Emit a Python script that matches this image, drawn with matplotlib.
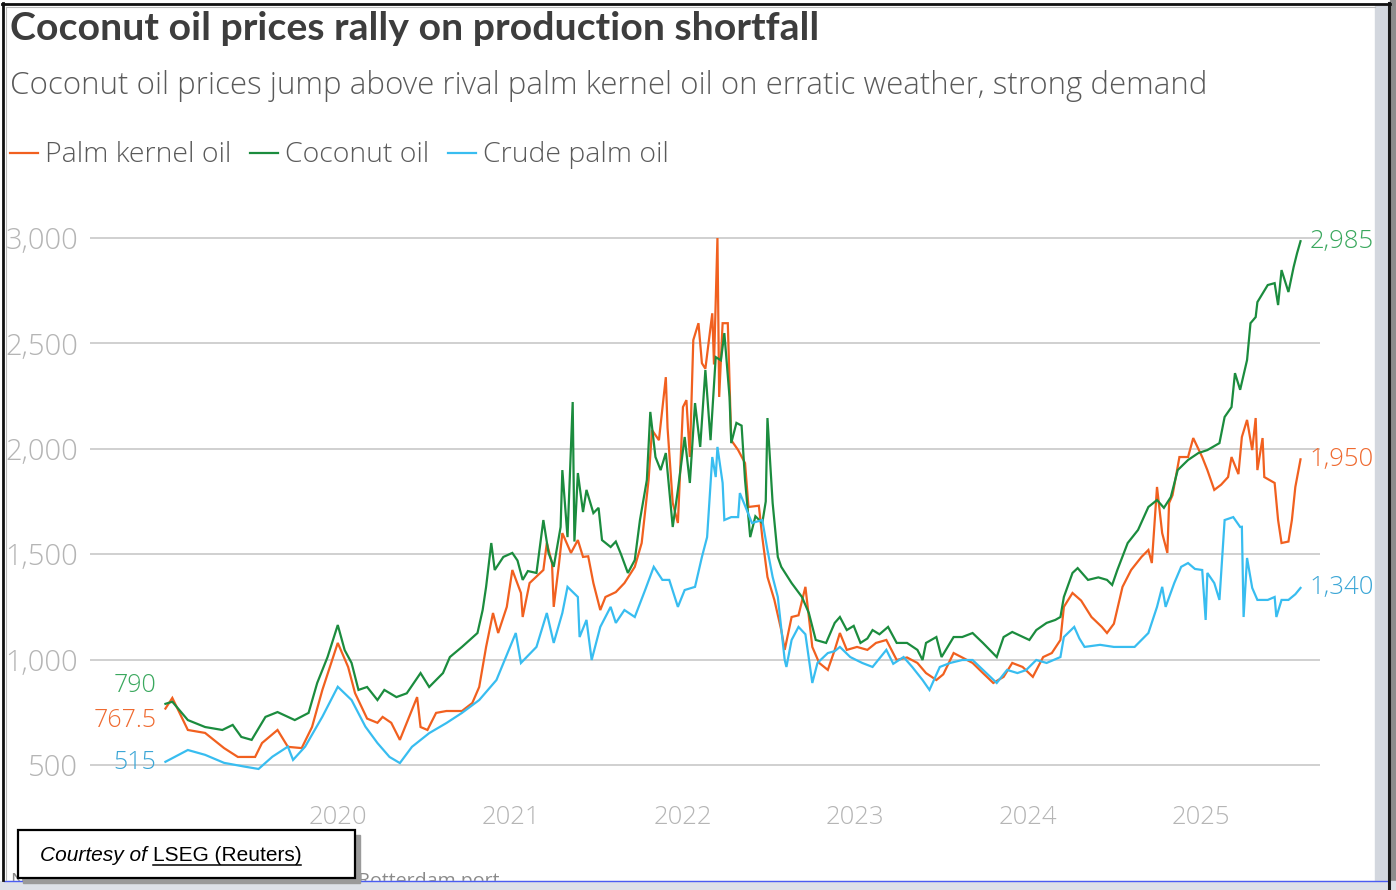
import numpy as np
import pandas as pd
import matplotlib
matplotlib.use('Agg')
import matplotlib.pyplot as plt
import matplotlib.dates as mdates
from matplotlib.lines import Line2D
from matplotlib.patches import Rectangle

# prices in USD/tonne, time as decimal years
pko_t = [2019.00, 2019.04, 2019.13, 2019.23, 2019.34, 2019.42, 2019.52, 2019.56, 2019.65, 2019.71,
         2019.79, 2019.85, 2019.91, 2020.00, 2020.06, 2020.10, 2020.17, 2020.23, 2020.26, 2020.31,
         2020.36, 2020.40, 2020.43, 2020.46, 2020.48, 2020.52, 2020.57, 2020.63, 2020.72, 2020.78,
         2020.82, 2020.86, 2020.90, 2020.93, 2020.98, 2021.01, 2021.06, 2021.07, 2021.11, 2021.19,
         2021.21, 2021.24, 2021.25, 2021.28, 2021.30, 2021.35, 2021.39, 2021.42, 2021.45, 2021.48,
         2021.52, 2021.55, 2021.61, 2021.66, 2021.72, 2021.76, 2021.80, 2021.82, 2021.86, 2021.90,
         2021.91, 2021.94, 2021.97, 2022.00, 2022.02, 2022.04, 2022.06, 2022.09, 2022.11, 2022.13,
         2022.17, 2022.18, 2022.20, 2022.21, 2022.23, 2022.26, 2022.28, 2022.32, 2022.36, 2022.38,
         2022.44, 2022.46, 2022.49, 2022.53, 2022.57, 2022.59, 2022.63, 2022.67, 2022.71, 2022.75,
         2022.79, 2022.84, 2022.88, 2022.91, 2022.95, 2023.01, 2023.07, 2023.12, 2023.18, 2023.24,
         2023.30, 2023.36, 2023.41, 2023.47, 2023.51, 2023.57, 2023.62, 2023.68, 2023.74, 2023.80,
         2023.86, 2023.91, 2023.97, 2024.03, 2024.09, 2024.14, 2024.19, 2024.21, 2024.26, 2024.31,
         2024.37, 2024.43, 2024.46, 2024.50, 2024.55, 2024.60, 2024.66, 2024.70, 2024.72, 2024.75,
         2024.78, 2024.81, 2024.82, 2024.84, 2024.88, 2024.93, 2024.96, 2025.01, 2025.04, 2025.08,
         2025.12, 2025.16, 2025.18, 2025.22, 2025.24, 2025.27, 2025.30, 2025.32, 2025.33, 2025.36,
         2025.37, 2025.43, 2025.45, 2025.47, 2025.51, 2025.53, 2025.55, 2025.58]
pko_v = [767.5, 818, 666, 652, 580, 538, 538, 604, 666, 586,
         580, 680, 856, 1079, 965, 841, 720, 700, 728, 700,
         619, 700, 760, 822, 680, 666, 747, 756, 756, 794,
         870, 1060, 1221, 1126, 1250, 1425, 1316, 1202, 1363, 1425,
         1553, 1458, 1250, 1450, 1600, 1506, 1567, 1487, 1490, 1363,
         1235, 1297, 1320, 1363, 1440, 1553, 1852, 2089, 2041, 2340,
         2100, 1743, 1648, 2198, 2231, 1961, 2516, 2596, 2406, 2380,
         2643, 2400, 3000, 2246, 2596, 2596, 2041, 1994, 1932, 1724,
         1730, 1581, 1392, 1283, 1140, 1046, 1202, 1210, 1345, 1060,
         984, 951, 1046, 1126, 1046, 1060, 1046, 1079, 1093, 998,
         1010, 984, 936, 903, 930, 1031, 1010, 984, 936, 889,
         918, 984, 965, 918, 1012, 1031, 1093, 1250, 1316, 1280,
         1202, 1155, 1126, 1170, 1345, 1425, 1487, 1520, 1458, 1819,
         1600, 1506, 1743, 1780, 1961, 1961, 2051, 1961, 1899, 1805,
         1830, 1866, 1961, 1880, 2056, 2137, 1994, 2146, 1899, 2051,
         1866, 1838, 1662, 1553, 1560, 1662, 1819, 1950]

cno_t = [2019.00, 2019.04, 2019.13, 2019.17, 2019.23, 2019.33, 2019.39, 2019.44, 2019.50, 2019.58,
         2019.65, 2019.75, 2019.83, 2019.88, 2019.94, 2020.00, 2020.04, 2020.08, 2020.12, 2020.17,
         2020.23, 2020.27, 2020.34, 2020.40, 2020.48, 2020.53, 2020.61, 2020.65, 2020.72, 2020.81,
         2020.84, 2020.86, 2020.89, 2020.91, 2020.96, 2021.01, 2021.04, 2021.07, 2021.10, 2021.15,
         2021.19, 2021.22, 2021.25, 2021.29, 2021.30, 2021.33, 2021.36, 2021.37, 2021.39, 2021.42,
         2021.44, 2021.48, 2021.51, 2021.53, 2021.58, 2021.61, 2021.64, 2021.68, 2021.72, 2021.75,
         2021.79, 2021.81, 2021.84, 2021.87, 2021.90, 2021.94, 2021.97, 2022.01, 2022.04, 2022.07,
         2022.10, 2022.13, 2022.16, 2022.19, 2022.22, 2022.24, 2022.27, 2022.28, 2022.31, 2022.34,
         2022.36, 2022.39, 2022.42, 2022.46, 2022.48, 2022.49, 2022.52, 2022.55, 2022.57, 2022.63,
         2022.69, 2022.73, 2022.77, 2022.83, 2022.88, 2022.91, 2022.95, 2022.99, 2023.03, 2023.07,
         2023.10, 2023.14, 2023.19, 2023.24, 2023.30, 2023.36, 2023.39, 2023.41, 2023.47, 2023.50,
         2023.57, 2023.62, 2023.68, 2023.74, 2023.82, 2023.86, 2023.91, 2024.01, 2024.05, 2024.11,
         2024.16, 2024.19, 2024.21, 2024.26, 2024.29, 2024.35, 2024.41, 2024.46, 2024.49, 2024.52,
         2024.58, 2024.64, 2024.70, 2024.75, 2024.79, 2024.83, 2024.87, 2024.93, 2024.99, 2025.04,
         2025.11, 2025.14, 2025.18, 2025.20, 2025.23, 2025.27, 2025.29, 2025.32, 2025.33, 2025.39,
         2025.43, 2025.45, 2025.47, 2025.51, 2025.54, 2025.56, 2025.58]
cno_v = [790, 800, 713, 700, 680, 666, 690, 633, 619, 728,
         751, 713, 747, 889, 1012, 1164, 1045, 984, 856, 870,
         808, 856, 822, 840, 936, 870, 936, 1012, 1060, 1126,
         1235, 1345, 1553, 1425, 1487, 1506, 1470, 1378, 1420, 1411,
         1662, 1506, 1440, 1629, 1899, 1581, 2222, 1560, 1885, 1700,
         1805, 1695, 1720, 1567, 1534, 1560, 1500, 1411, 1472, 1662,
         1852, 2175, 1961, 1899, 1980, 1629, 1805, 2056, 1838, 2217,
         2009, 2374, 2041, 2435, 2420, 2549, 2246, 2027, 2123, 2110,
         1852, 1581, 1680, 1648, 1750, 2146, 1743, 1487, 1440, 1363,
         1297, 1221, 1093, 1079, 1174, 1202, 1140, 1160, 1079, 1100,
         1140, 1120, 1155, 1079, 1079, 1046, 998, 1079, 1107, 1012,
         1107, 1107, 1126, 1079, 1012, 1107, 1131, 1093, 1140, 1174,
         1188, 1202, 1297, 1411, 1434, 1378, 1390, 1378, 1354, 1425,
         1553, 1615, 1724, 1757, 1720, 1771, 1899, 1947, 1980, 1994,
         2027, 2151, 2198, 2359, 2280, 2421, 2596, 2625, 2696, 2777,
         2786, 2682, 2848, 2744, 2862, 2928, 2985]

cpo_t = [2019.00, 2019.13, 2019.23, 2019.34, 2019.46, 2019.54, 2019.62, 2019.71, 2019.74, 2019.81,
         2019.91, 2020.00, 2020.08, 2020.16, 2020.23, 2020.30, 2020.36, 2020.43, 2020.53, 2020.63,
         2020.72, 2020.82, 2020.92, 2021.03, 2021.06, 2021.15, 2021.21, 2021.25, 2021.30, 2021.33,
         2021.39, 2021.40, 2021.44, 2021.47, 2021.52, 2021.58, 2021.61, 2021.66, 2021.72, 2021.78,
         2021.83, 2021.88, 2021.92, 2021.97, 2022.01, 2022.07, 2022.11, 2022.14, 2022.17, 2022.19,
         2022.20, 2022.23, 2022.24, 2022.28, 2022.32, 2022.33, 2022.36, 2022.40, 2022.46, 2022.49,
         2022.52, 2022.55, 2022.59, 2022.60, 2022.63, 2022.67, 2022.71, 2022.75, 2022.78, 2022.84,
         2022.88, 2022.91, 2022.97, 2023.04, 2023.10, 2023.18, 2023.22, 2023.28, 2023.33, 2023.39,
         2023.43, 2023.49, 2023.55, 2023.62, 2023.68, 2023.74, 2023.82, 2023.88, 2023.94, 2023.99,
         2024.05, 2024.11, 2024.19, 2024.21, 2024.27, 2024.30, 2024.33, 2024.42, 2024.50, 2024.62,
         2024.70, 2024.75, 2024.78, 2024.80, 2024.85, 2024.89, 2024.93, 2024.97, 2025.01, 2025.03,
         2025.04, 2025.08, 2025.11, 2025.14, 2025.19, 2025.23, 2025.24, 2025.25, 2025.27, 2025.30,
         2025.33, 2025.39, 2025.43, 2025.44, 2025.47, 2025.51, 2025.55, 2025.58]
cpo_v = [515, 571, 548, 510, 492, 481, 539, 587, 524, 587,
         729, 871, 808, 682, 604, 538, 509, 586, 651, 699,
         747, 808, 903, 1126, 984, 1060, 1221, 1079, 1221, 1345,
         1297, 1107, 1188, 998, 1155, 1250, 1174, 1235, 1202, 1330,
         1440, 1378, 1378, 1250, 1330, 1345, 1487, 1581, 1961, 1866,
         2009, 1838, 1662, 1676, 1676, 1790, 1730, 1648, 1662, 1520,
         1392, 1297, 998, 965, 1093, 1155, 1120, 889, 984, 1031,
         1040, 1060, 1012, 984, 965, 1046, 980, 1012, 965, 903,
         856, 965, 984, 998, 998, 951, 889, 951, 936, 950,
         998, 984, 1012, 1107, 1155, 1100, 1060, 1070, 1060, 1060,
         1126, 1250, 1345, 1250, 1363, 1440, 1458, 1430, 1425, 1188,
         1411, 1363, 1283, 1662, 1676, 1629, 1630, 1202, 1482, 1340,
         1283, 1283, 1297, 1202, 1283, 1283, 1310, 1340]

series_names = ['Palm kernel oil', 'Coconut oil', 'Crude palm oil']
start_labels = ['767.5', '790', '515']
end_labels = ['1,950', '2,985', '1,340']
year_ticks = [2020, 2021, 2022, 2023, 2024, 2025]
y_ticks = [500, 1000, 1500, 2000, 2500, 3000]

line_cols = ['#f1601f', '#1b8c3e', '#38bdf0']
label_cols = ['#ef6a30', '#3aa85e', '#3ba6d6']


def to_dates(vals):
    out = []
    for v in vals:
        yr = int(v)
        out.append(pd.Timestamp(yr, 1, 1) + pd.Timedelta(days=(v - yr) * 365.25))
    return out


W, H = 1396, 890
fig = plt.figure(figsize=(W / 100, H / 100), dpi=100)
fig.patch.set_facecolor('white')

def fx(px):
    return px / W

def fy(py):
    return 1 - py / H

BOLD = 'Lato'
TXT = 'Open Sans'
ax = fig.add_axes([fx(90), fy(775.5), fx(1230), 548 / H])
ax.set_facecolor('white')

series = [(pko_t, pko_v), (cno_t, cno_v), (cpo_t, cpo_v)]
for (t, v), c in zip(series, line_cols):
    ax.plot(to_dates(t), v, color=c, lw=1.6, solid_joinstyle='miter', zorder=3)

ax.set_ylim(450, 3050)
ax.set_xlim(to_dates([2018.562])[0], to_dates([2025.693])[0])
ax.set_yticks(y_ticks)
ax.set_yticklabels([f'{v:,}' for v in y_ticks])
ax.set_xticks(to_dates(year_ticks))
ax.set_xticklabels([str(y) for y in year_ticks])
ax.grid(axis='y', color='#d0d0d0', lw=1.4, zorder=1)
ax.tick_params(axis='both', length=0, labelcolor='#b5b5b5')
ax.tick_params(axis='y', pad=8.5, labelsize=21)
ax.tick_params(axis='x', pad=21, labelsize=18.5)
for lab in ax.get_xticklabels() + ax.get_yticklabels():
    lab.set_family(TXT)
    lab.set_fontweight('light')
for s in ax.spines.values():
    s.set_visible(False)

# labels at both ends of the lines
start_pos = [713, 875, 514]
for (t, v), lab, yp, c in zip(series, start_labels, start_pos, label_cols):
    ax.annotate(lab, xy=(to_dates([t[0]])[0], yp), xytext=(-9, 0), textcoords='offset pixels',
                ha='right', va='center', color=c, fontsize=18, family=TXT, fontweight='light')
for (t, v), lab, c in zip(series, end_labels, label_cols):
    ax.annotate(lab, xy=(to_dates([t[-1]])[0], v[-1]), xytext=(9, 0), textcoords='offset pixels',
                ha='left', va='center', color=c, fontsize=18.5, family=TXT, fontweight='light',
                annotation_clip=False)

# title, subtitle and legend
fig.text(fx(10), fy(40), 'Coconut oil prices rally on production shortfall', fontsize=28.3,
         fontweight='bold', color='#3d3d3d', family=BOLD, va='baseline')
fig.text(fx(10), fy(94), 'Coconut oil prices jump above rival palm kernel oil on erratic weather, strong demand',
         fontsize=22.5, color='#5a5a5a', family=TXT, fontweight='light', va='baseline')
leg_x = [10, 250, 448]
for x0, name, c in zip(leg_x, series_names, line_cols):
    fig.add_artist(Line2D([fx(x0), fx(x0 + 28)], [fy(153), fy(153)], color=c, lw=1.6))
    fig.text(fx(x0 + 35), fy(162), name, fontsize=20.5, color='#5a5a5a', family=TXT,
             fontweight='light', va='baseline')

# partially hidden footnote under the credit box
fig.text(fx(10), fy(889.5), 'N', fontsize=14, color='#8a8a8a', family=TXT, va='bottom', zorder=1)
fig.text(fx(358), fy(889.5), 'Rotterdam port', fontsize=14, color='#8a8a8a', family=TXT, va='bottom', zorder=1)

# screenshot frame
fig.add_artist(Rectangle((fx(1375), fy(881)), fx(12), 877 / H, color='#d3d7de', zorder=5))
fig.add_artist(Rectangle((fx(1390), 0), fx(6), 1, color='#8c8c8c', zorder=5))
fig.add_artist(Rectangle((0, 0), 1, 9 / H, color='#dde1e8', zorder=5))
fig.add_artist(Line2D([fx(4), fx(1388)], [fy(880.5), fy(880.5)], color='#4a5cf2', lw=1, zorder=6))
fig.add_artist(Line2D([fx(1388.5), fx(1388.5)], [0, fy(3)], color='#1a1a1a', lw=2.2, zorder=6))
fig.add_artist(Line2D([fx(3), fx(3)], [fy(880), fy(3)], color='#111111', lw=2, zorder=6))
fig.add_artist(Line2D([fx(2), fx(1390)], [fy(4), fy(4)], color='#111111', lw=2, zorder=6))
fig.add_artist(Line2D([fx(6), fx(1375)], [fy(7), fy(7)], color='#bbbbbb', lw=0.8, zorder=6))
fig.add_artist(Line2D([fx(6), fx(6)], [fy(880), fy(7)], color='#bbbbbb', lw=0.8, zorder=6))

# credit box
fig.add_artist(Rectangle((fx(23), fy(883)), fx(337), 48 / H, color='#9a9a9a', zorder=7))
fig.add_artist(Rectangle((fx(18), fy(878)), fx(337), 48 / H, facecolor='white',
                         edgecolor='black', lw=1.6, zorder=8))
t1 = fig.text(fx(40), fy(861), 'Courtesy of ', fontsize=15, style='italic', color='black',
              family='Liberation Sans', va='baseline', zorder=9)
fig.canvas.draw()
bb = t1.get_window_extent()
t2 = fig.text(bb.x1 / W, fy(861), 'LSEG (Reuters)', fontsize=15, color='black',
              family='Liberation Sans', va='baseline', zorder=9)
fig.canvas.draw()
bb2 = t2.get_window_extent()
fig.add_artist(Line2D([bb2.x0 / W, bb2.x1 / W], [fy(865), fy(865)], color='black', lw=1.1, zorder=9))

fig.savefig('out.png', dpi=100)
